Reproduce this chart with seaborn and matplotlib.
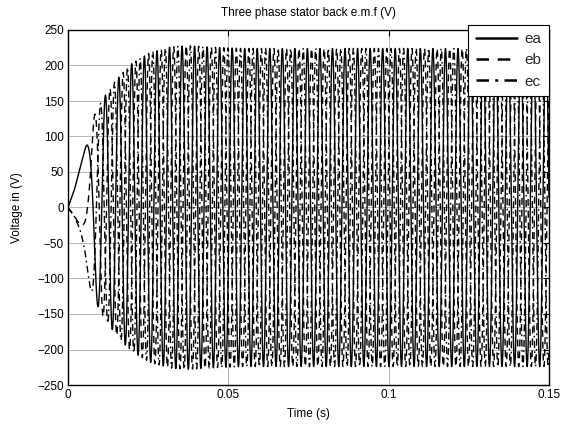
import numpy as np
import pandas as pd
import matplotlib
matplotlib.use("Agg")
import matplotlib.pyplot as plt
import seaborn as sns

# ---- data ----
phases = ["ea", "eb", "ec"]
phase_shift_deg = [0, -120, 120]           # electrical phase of each back e.m.f.
# amplitude envelope of the back e.m.f. (V) at key instants (s)
t_env = [0.0, 0.002, 0.004, 0.006, 0.008, 0.011, 0.0146, 0.0193, 0.0255,
         0.0318, 0.037, 0.044, 0.054, 0.07, 0.15]
amp_env = [0, 25, 60, 100, 128, 154, 177, 201, 218, 226, 228, 226, 224, 224, 224]
# electrical frequency of the back e.m.f. (Hz) at key instants (s)
t_freq = [0.0, 0.003, 0.005, 0.0067, 0.0078, 0.0092, 0.011, 0.015, 0.02, 0.03, 0.04, 0.15]
freq = [0, 5, 25, 80, 140, 190, 225, 245, 252, 256, 256, 255]
x_ticks = [0, 0.05, 0.1, 0.15]
x_tick_labels = ["0", "0.05", "0.1", "0.15"]
y_ticks = [-250, -200, -150, -100, -50, 0, 50, 100, 150, 200, 250]

# ---- build waveforms ----
t = np.linspace(0, 0.15, 45001)
amp = np.interp(t, t_env, amp_env)
f_t = np.interp(t, t_freq, freq)
dt = t[1] - t[0]
theta = 2 * np.pi * np.concatenate([[0], np.cumsum((f_t[1:] + f_t[:-1]) / 2 * dt)])

frames = []
for name, sh in zip(phases, phase_shift_deg):
    frames.append(pd.DataFrame({"t": t, "v": amp * np.cos(theta + np.deg2rad(sh)), "phase": name}))
df = pd.concat(frames, ignore_index=True)

# ---- plot ----
sns.set_theme(style="white")
plt.rcParams["font.family"] = ["Liberation Sans", "DejaVu Sans"]

fig = plt.figure(figsize=(5.71, 4.36), dpi=100)
ax = fig.add_axes([68 / 571, 1 - 385 / 436, (549 - 68) / 571, (385 - 30) / 436])

sns.lineplot(data=df, x="t", y="v", hue="phase", style="phase",
             palette=["black"] * 3,
             dashes={"ea": "", "eb": (5, 3.5), "ec": (5, 2.5, 1.2, 2.5)},
             estimator=None, sort=False, linewidth=1.0,
             ax=ax, legend=True)

ax.set_xlim(0, 0.15)
ax.set_ylim(-250, 250)
ax.set_xticks(x_ticks)
ax.set_xticklabels(x_tick_labels)
ax.set_yticks(y_ticks)
ax.grid(True, color="#aaaaaa", linewidth=0.6, linestyle="-")
ax.set_axisbelow(True)
ax.tick_params(direction="in", length=4, width=0.8, top=True, right=True,
               labelsize=8.5, colors="black", pad=3)
for sp in ax.spines.values():
    sp.set_color("black")
    sp.set_linewidth(1.0)

ax.set_xlabel("Time (s)", fontsize=8.5, color="black", labelpad=5)
ax.set_ylabel("Voltage in (V)", fontsize=8.5, color="black", labelpad=10)
ax.set_title("Three phase stator back e.m.f (V)", fontsize=8.5, color="black", pad=10)

handles, labels = ax.get_legend_handles_labels()
leg = ax.legend(handles, labels, loc="upper right", bbox_to_anchor=(1.0, 1.015),
                fontsize=11, frameon=True, fancybox=False, framealpha=1,
                edgecolor="black", handlelength=2.7, handletextpad=0.5,
                labelspacing=0.48, borderpad=0.48, borderaxespad=0)
leg.get_frame().set_linewidth(0.8)
for line in leg.get_lines():
    line.set_linewidth(1.8)

fig.savefig("out.png", dpi=100)
